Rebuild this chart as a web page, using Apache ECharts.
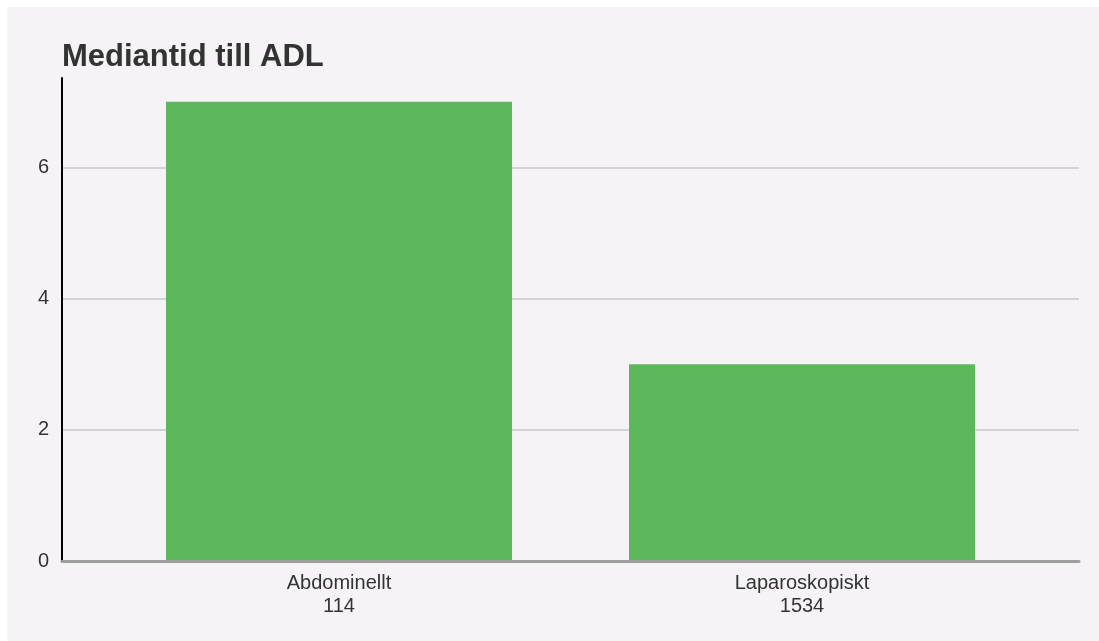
<!DOCTYPE html>
<html>
<head>
<meta charset="utf-8">
<script src="https://cdn.jsdelivr.net/npm/echarts@6/dist/echarts.min.js"></script>
<style>
  html, body { margin: 0; padding: 0; background: #ffffff; }
  #chart { position: absolute; left: 7px; top: 7px; width: 1092px; height: 634px; }
</style>
</head>
<body>
<div id="chart"></div>
<script>
const titleText = 'Mediantid till ADL';
const categories = ['Abdominellt', 'Laparoskopiskt'];
const counts = [114, 1534];
const medianDays = [7, 3];
const yTicks = [0, 2, 4, 6];

const chart = echarts.init(document.getElementById('chart'), null, { renderer: 'canvas' });
const labelFont = { fontFamily: 'Liberation Sans, Arial, sans-serif', color: '#333333' };

chart.setOption({
  backgroundColor: '#f5f3f6',
  animation: false,
  title: {
    text: titleText,
    left: 50,
    top: 30,
    textStyle: { fontFamily: 'Liberation Sans, Arial, sans-serif', fontSize: 31, fontWeight: 'bold', color: '#333333', lineHeight: 31 }
  },
  grid: [
    { left: 55, right: 20, top: 71, bottom: 80 },
    { left: 100.5, right: 65.5, top: 71, bottom: 80 }
  ],
  xAxis: [
    {
      gridIndex: 0, type: 'category', data: [''], z: 5,
      axisLine: { show: true, lineStyle: { color: '#9e9e9e', width: 3 } },
      axisTick: { show: false }, axisLabel: { show: false }, splitLine: { show: false }
    },
    {
      gridIndex: 1, type: 'category',
      data: categories.map((c, i) => c + '\n' + counts[i]),
      axisLine: { show: false }, axisTick: { show: false },
      axisLabel: Object.assign({ fontSize: 20, lineHeight: 23, margin: 11 }, labelFont)
    }
  ],
  yAxis: [
    {
      gridIndex: 0, type: 'value', min: 0, max: 7.36, interval: 2,
      axisLine: { show: true, lineStyle: { color: '#000000', width: 2 } },
      axisTick: { show: false },
      axisLabel: Object.assign({
        fontSize: 20, margin: 13, showMaxLabel: false,
        formatter: v => (yTicks.indexOf(v) >= 0 ? String(v) : '')
      }, labelFont),
      splitLine: { show: true, showMinLine: false, showMaxLine: false, lineStyle: { color: '#d3d3d3', width: 2 } }
    },
    {
      gridIndex: 1, type: 'value', min: 0, max: 7.36, show: false
    }
  ],
  series: [
    {
      type: 'bar', xAxisIndex: 1, yAxisIndex: 1,
      data: medianDays,
      barWidth: 346,
      itemStyle: { color: '#5cb85c' }
    }
  ]
});
</script>
</body>
</html>
